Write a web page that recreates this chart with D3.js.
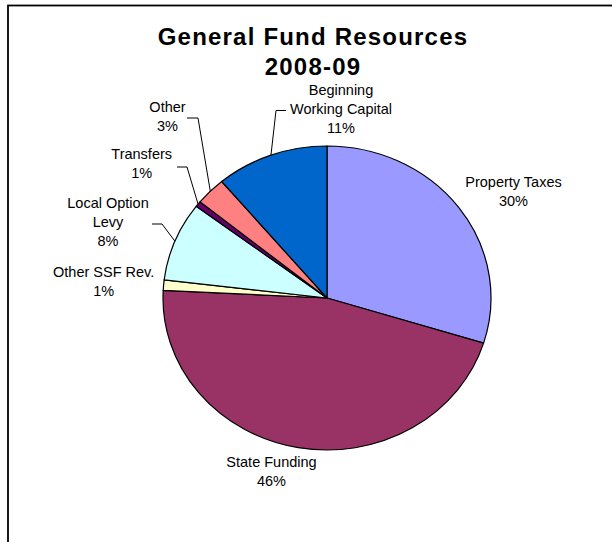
<!DOCTYPE html>
<html>
<head>
<meta charset="utf-8">
<script src="https://cdn.jsdelivr.net/npm/d3@7/dist/d3.min.js"></script>
<style>
  html, body { margin: 0; padding: 0; background: #fff; }
  svg { display: block; }
  text { font-family: "Liberation Sans", Arial, sans-serif; fill: #000; }
</style>
</head>
<body>
<svg id="chart" width="612" height="542"></svg>
<script>
// General Fund resources, 2008-09, share of total (%), clockwise from 12 o'clock
const categories = ["Property Taxes", "State Funding", "Other SSF Rev.", "Local Option Levy",
                    "Transfers", "Other", "Beginning Working Capital"];
const shares = [29.8, 46.0, 1.1, 8.4, 0.6, 3.0, 11.1];
const labelLines = [["Property Taxes"], ["State Funding"], ["Other SSF Rev."], ["Local Option", "Levy"],
                    ["Transfers"], ["Other"], ["Beginning", "Working Capital"]];
const titleLines = ["General Fund Resources", "2008-09"];

// Styling and layout
const sliceColors = ["#9999FF", "#993366", "#FFFFCC", "#CCFFFF", "#660066", "#FF8080", "#0066CC"];
const cx = 327, cy = 298, rx = 164, ry = 152;
const lineGap = 18.8;
// label anchor: centre x and first baseline y; leader: label-side elbow points (or none)
const labelLayout = [
  { x: 513.5, y: 186.7, leader: null },
  { x: 271.5, y: 466.7, leader: null },
  { x: 103.7, y: 276.7, leader: null },
  { x: 108,   y: 208.3, leader: [[152, 224], [162, 224]] },
  { x: 141.7, y: 159.3, leader: [[177, 167], [187, 167]] },
  { x: 167.5, y: 111.7, leader: [[187, 118], [198, 118]] },
  { x: 341,   y: 95,    leader: [[286, 110.5], [276, 110.5]] }
];

const svg = d3.select("#chart");

// Chart area frame
svg.append("rect")
  .attr("x", 8).attr("y", 5.5)
  .attr("width", 800).attr("height", 800)
  .attr("fill", "none").attr("stroke", "#000").attr("stroke-width", 1.8);

// Title
svg.append("text")
  .attr("x", 313).attr("y", 45)
  .attr("text-anchor", "middle")
  .style("font-size", "24px").style("font-weight", "bold").style("letter-spacing", "1.2px")
  .selectAll("tspan").data(titleLines).join("tspan")
  .attr("x", 313).attr("dy", (d, i) => i === 0 ? 0 : 30)
  .text(d => d);

const data = categories.map((c, i) => ({ name: c, value: shares[i], i }));
const pie = d3.pie().value(d => d.value).sort(null);
const arcs = pie(data);
const arc = d3.arc().innerRadius(0).outerRadius(rx);

// Pie drawn as a circle of radius rx, squashed vertically to the ellipse
const g = svg.append("g")
  .attr("transform", `translate(${cx},${cy}) scale(1,${ry / rx})`);

g.selectAll("path.slice").data(arcs).join("path")
  .attr("class", "slice")
  .attr("d", arc)
  .attr("fill", d => sliceColors[d.data.i])
  .attr("stroke", "#000").attr("stroke-width", 1.2)
  .attr("stroke-linejoin", "round")
  .attr("vector-effect", "non-scaling-stroke");

// point on the pie edge at the middle angle of a slice
function edgePoint(d) {
  const a = (d.startAngle + d.endAngle) / 2;
  return [cx + rx * Math.sin(a), cy - ry * Math.cos(a)];
}

// Leader lines
const line = d3.line();
svg.selectAll("path.leader").data(arcs.filter(d => labelLayout[d.data.i].leader)).join("path")
  .attr("class", "leader")
  .attr("d", d => line([...labelLayout[d.data.i].leader, edgePoint(d)]))
  .attr("fill", "none").attr("stroke", "#000").attr("stroke-width", 1);

// Data labels: category name lines followed by the rounded percentage
const labels = svg.selectAll("text.label").data(arcs).join("text")
  .attr("class", "label")
  .attr("text-anchor", "middle")
  .style("font-size", "14.5px");

labels.selectAll("tspan")
  .data(d => [...labelLines[d.data.i], Math.round(d.data.value) + "%"]
    .map(t => ({ t, L: labelLayout[d.data.i] })))
  .join("tspan")
  .attr("x", d => d.L.x)
  .attr("y", (d, k) => d.L.y + k * lineGap)
  .text(d => d.t);
</script>
</body>
</html>
